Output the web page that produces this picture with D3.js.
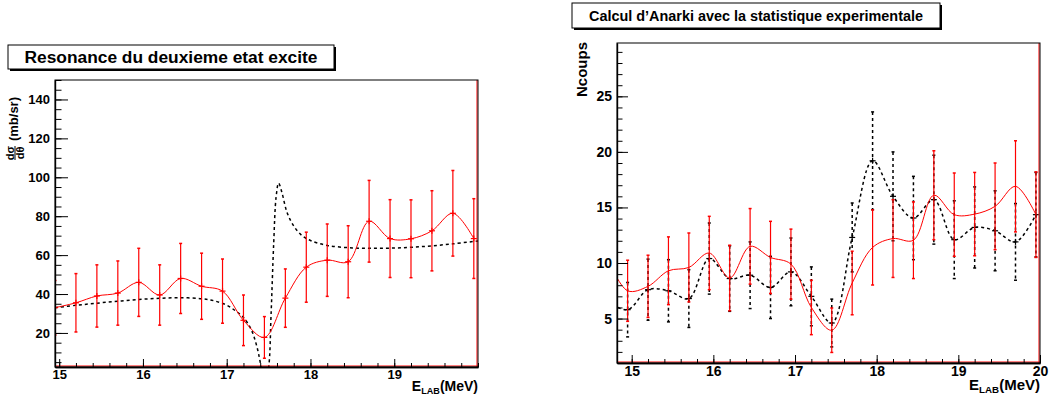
<!DOCTYPE html>
<html><head><meta charset="utf-8">
<script src="https://cdn.jsdelivr.net/npm/d3@7"></script>
<style>
body{margin:0;background:#fff}
svg{display:block}
text{font-family:"Liberation Sans",Arial,Helvetica,sans-serif;font-weight:bold;fill:#000}
</style>
</head><body>
<svg id="c" width="1049" height="403"></svg>
<script>
// ---------- Left panel data ----------
const leftE      = [14.95, 15.2, 15.45, 15.7, 15.95, 16.2, 16.45, 16.7, 16.95, 17.2, 17.45, 17.7, 17.95, 18.2, 18.45, 18.7, 18.95, 19.2, 19.45, 19.7, 19.95];
const leftExp    = [33, 35.5, 39, 40.5, 46, 39.5, 48, 44, 41.5, 26.5, 17.7, 37.9, 53.8, 57.4, 56.6, 77.4, 68.5, 68.4, 72.5, 81.5, 68.5];
const leftExpErr = [14, 15, 16, 16.5, 17.5, 15.5, 18, 17, 16.5, 13, 10.7, 15, 18, 18.6, 18.5, 21, 20, 20, 20.6, 22, 20.5];
const leftTheoryE = [14.95, 15.2, 15.45, 15.7, 15.95, 16.2, 16.45, 16.7, 16.85, 17.0, 17.1, 17.2, 17.3, 17.36, 17.4, 17.45, 17.5, 17.53, 17.56, 17.59, 17.62, 17.66, 17.72, 17.8, 17.9, 18.0, 18.2, 18.5, 18.8, 19.1, 19.4, 19.7, 20.0];
const leftTheory  = [33.0, 34.2, 35.3, 36.3, 37.2, 37.8, 38.1, 37.6, 36.5, 34.3, 31.5, 28.0, 21, 13, 5, -8, 2, 30, 65, 90, 97, 92, 82, 75, 70, 67.5, 65, 63.7, 63.5, 63.8, 64.6, 65.8, 67.3];
const leftXTicks = [15, 16, 17, 18, 19];
const leftYTicks = [20, 40, 60, 80, 100, 120, 140];

// ---------- Right panel data ----------
const rightE        = [14.7, 14.95, 15.2, 15.45, 15.7, 15.95, 16.2, 16.45, 16.7, 16.95, 17.2, 17.45, 17.7, 17.95, 18.2, 18.45, 18.7, 18.95, 19.2, 19.45, 19.7, 19.95];
const rightCalc     = [10.5, 7.5, 7.9, 9.3, 9.6, 10.9, 8.65, 11.5, 10.5, 9.9, 6.0, 3.95, 8.2, 11.4, 12.2, 12.05, 16.1, 14.35, 14.4, 15.1, 16.9, 14.35];
const rightCalcErr  = [3.2, 2.75, 2.8, 3.05, 3.1, 3.3, 2.95, 3.4, 3.25, 3.15, 2.45, 2.0, 2.86, 3.38, 3.5, 3.45, 4.0, 3.75, 3.75, 3.9, 4.1, 3.85];
const rightExp      = [6.5, 5.8, 7.6, 7.5, 6.8, 10.4, 8.6, 8.9, 7.8, 9.2, 7.0, 4.6, 12.3, 19.2, 16.0, 14.05, 15.7, 12.1, 13.2, 12.9, 11.9, 14.35];
const rightExpErr   = [2.5, 2.45, 2.75, 2.8, 2.6, 3.2, 2.95, 3.0, 2.8, 3.05, 2.65, 2.15, 3.1, 4.4, 4.0, 3.75, 4.0, 3.5, 3.65, 3.6, 3.45, 3.8];
const rightXTicks = [15, 16, 17, 18, 19, 20];
const rightYTicks = [5, 10, 15, 20, 25];

const svg = d3.select('#c');
const RED = '#ff0000';

function drawPanel(o) {
  const x = d3.scaleLinear().domain(o.xDomain).range([o.left, o.right]);
  const y = d3.scaleLinear().domain(o.yDomain).range([o.bottom, o.top]);
  const g = svg.append('g');
  const clipId = 'clip' + o.id;
  svg.append('clipPath').attr('id', clipId).append('rect')
    .attr('x', o.left).attr('y', o.top).attr('width', o.right - o.left).attr('height', o.bottom - o.top);
  const plot = g.append('g').attr('clip-path', `url(#${clipId})`);
  const curve = d3.line().curve(d3.curveCatmullRom.alpha(0.5));

  o.series.forEach(s => {
    const pts = s.e.map((e, i) => [x(e), y(s.v[i])]);
    const lineStyle = sel => {
      sel.attr('stroke', s.color).attr('stroke-width', s.width).attr('fill', 'none');
      if (s.dash) sel.attr('stroke-dasharray', s.dash);
    };
    if (s.err) {
      const eb = plot.append('g');
      s.e.forEach((e, i) => {
        const xx = x(e), y1 = y(s.v[i] + s.err[i]), y2 = y(s.v[i] - s.err[i]);
        eb.append('line').attr('x1', xx).attr('x2', xx).attr('y1', y1).attr('y2', y2)
          .call(lineStyle).attr('stroke-width', s.errWidth);
        [y1, y2].forEach(yy => eb.append('line').attr('x1', xx - 1.5).attr('x2', xx + 1.5)
          .attr('y1', yy).attr('y2', yy).attr('stroke', s.color).attr('stroke-width', 1.5));
      });
    }
    plot.append('path').attr('d', curve(pts)).call(lineStyle);
    if (s.marker) {
      const mk = plot.append('g').attr('stroke', s.markerColor || s.color).attr('stroke-width', 1.2);
      pts.forEach(p => {
        mk.append('line').attr('x1', p[0] - 3).attr('x2', p[0] + 3).attr('y1', p[1]).attr('y2', p[1]);
        mk.append('line').attr('x1', p[0]).attr('x2', p[0]).attr('y1', p[1] - 3).attr('y2', p[1] + 3);
      });
    }
  });

  g.append('line').attr('x1', o.left).attr('x2', o.right).attr('y1', o.bottom - 1).attr('y2', o.bottom - 1)
    .attr('stroke', RED).attr('stroke-width', 1);
  g.append('line').attr('x1', o.right - 1).attr('x2', o.right - 1).attr('y1', o.top).attr('y2', o.bottom)
    .attr('stroke', RED).attr('stroke-width', 1);

  g.append('rect').attr('x', o.left).attr('y', o.top).attr('width', o.right - o.left).attr('height', o.bottom - o.top)
    .attr('fill', 'none').attr('stroke', '#000').attr('stroke-width', 1);

  const yMinor = d3.axisLeft(y).tickValues(o.yMinor).tickSizeInner(-o.yTick / 2).tickSizeOuter(0).tickFormat('');
  const yMajor = d3.axisLeft(y).tickValues(o.yTicks).tickSizeInner(-o.yTick).tickSizeOuter(0).tickPadding(5);
  const xMinor = d3.axisBottom(x).tickValues(o.xMinor).tickSizeInner(-o.xTick / 2).tickSizeOuter(0).tickFormat('');
  const xMajor = d3.axisBottom(x).tickValues(o.xTicks).tickSizeInner(-o.xTick).tickSizeOuter(0).tickPadding(3).tickFormat(d3.format('d'));
  [[yMinor, 'y'], [yMajor, 'y'], [xMinor, 'x'], [xMajor, 'x']].forEach(([ax, t]) => {
    const a = g.append('g').attr('transform', t === 'y' ? `translate(${o.left},0)` : `translate(0,${o.bottom})`).call(ax);
    a.selectAll('.domain').attr('stroke', '#000').attr('stroke-width', t === 'x' ? 1.5 : 1.2);
    a.selectAll('.tick line').attr('stroke', '#000').attr('stroke-width', 1);
    a.selectAll('text').attr('font-size', o.tickFont).attr('font-family', null).attr('fill', '#000');
  });

  const xl = g.append('text').attr('x', o.right).attr('y', o.xLabelY).attr('text-anchor', 'end').attr('font-size', o.xLabelFont);
  xl.append('tspan').text('E');
  xl.append('tspan').attr('font-size', o.xLabelFont * 0.65).attr('dy', 3).text('LAB');
  xl.append('tspan').attr('dy', -3).text('(MeV)');

  const t = o.title;
  svg.append('rect').attr('x', t.x + 2).attr('y', t.y + 2).attr('width', t.w).attr('height', t.h).attr('fill', '#000');
  svg.append('rect').attr('x', t.x).attr('y', t.y).attr('width', t.w).attr('height', t.h).attr('fill', '#fff')
    .attr('stroke', '#000').attr('stroke-width', 1);
  svg.append('text').attr('x', t.x + t.w / 2).attr('y', t.y + t.h / 2).attr('dy', '0.36em')
    .attr('text-anchor', 'middle').attr('font-size', t.font)
    .attr('textLength', t.len).attr('lengthAdjust', 'spacingAndGlyphs').text(t.text);
  return g;
}

drawPanel({
  id: 'L', left: 55, right: 478, top: 80, bottom: 367,
  xDomain: [14.95, 20.0], yDomain: [2.5, 150],
  xTicks: leftXTicks, yTicks: leftYTicks,
  xMinor: d3.range(75, 101).map(v => v / 5), yMinor: d3.range(1, 31).map(v => v * 5),
  xTick: 8, yTick: 13, tickFont: 13, xLabelFont: 14, xLabelY: 391,
  title: {x: 8, y: 45, w: 326, h: 24, font: 16, len: 293, text: 'Resonance du deuxieme etat excite'},
  series: [
    {e: leftTheoryE, v: leftTheory, color: '#000', width: 1.5, dash: '3,3'},
    {e: leftE, v: leftExp, err: leftExpErr, color: RED, width: 1, errWidth: 1.2, marker: true}
  ]
});

drawPanel({
  id: 'R', left: 617, right: 1040, top: 43, bottom: 363,
  xDomain: [14.82, 20.0], yDomain: [1.0, 29.8],
  xTicks: rightXTicks, yTicks: rightYTicks,
  xMinor: d3.range(75, 101).map(v => v / 5), yMinor: d3.range(2, 30),
  xTick: 8, yTick: 11, tickFont: 14, xLabelFont: 15, xLabelY: 390,
  title: {x: 572, y: 3, w: 368, h: 25, font: 14, len: 334, text: 'Calcul d\u2019Anarki avec la statistique experimentale'},
  series: [
    {e: rightE, v: rightExp, err: rightExpErr, color: '#000', width: 1.5, dash: '3,3', errWidth: 1.5, marker: true},
    {e: rightE, v: rightCalc, err: rightCalcErr, color: RED, width: 1, errWidth: 1.2}
  ]
});

const yl = svg.append('g').attr('transform', 'translate(18,97) rotate(-90)');
yl.append('text').attr('x', 0).attr('y', 0).attr('text-anchor', 'end').attr('font-size', 13).text('(mb/sr)');
const fr = yl.append('g').attr('transform', 'translate(-56,0)');
fr.append('text').attr('x', 0).attr('y', -4.5).attr('text-anchor', 'middle').attr('font-size', 11).text('d\u03c3');
fr.append('line').attr('x1', -7).attr('x2', 7).attr('y1', -3).attr('y2', -3).attr('stroke', '#000').attr('stroke-width', 1);
fr.append('text').attr('x', 0).attr('y', 6).attr('text-anchor', 'middle').attr('font-size', 11).text('d\u03b8');

svg.append('text').attr('transform', 'translate(587,42) rotate(-90)').attr('text-anchor', 'end')
  .attr('font-size', 15).text('Ncoups');
</script>
</body></html>
